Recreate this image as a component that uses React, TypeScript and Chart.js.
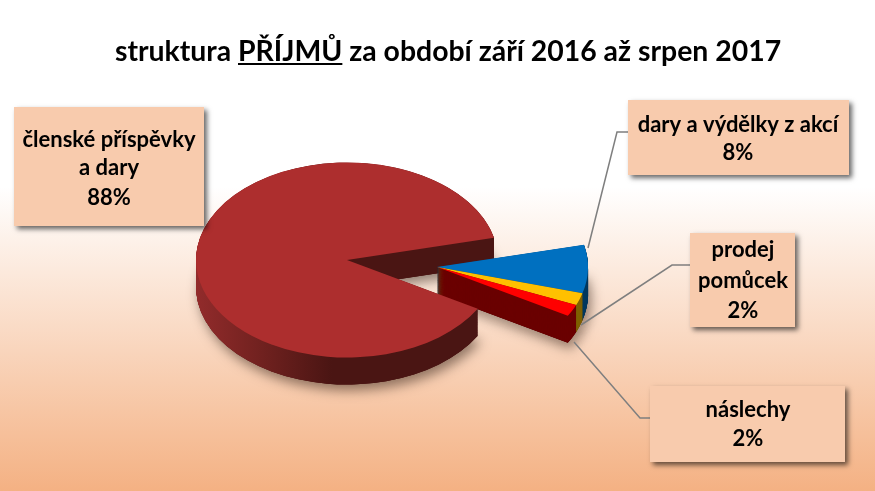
import { useEffect, useRef } from 'react';
import { Chart, registerables } from 'chart.js';

Chart.register(...registerables);

const categories = ['členské příspěvky a dary', 'dary a výdělky z akcí', 'prodej pomůcek', 'náslechy'];
const values = [88, 8, 2, 2];
const sliceColors = ['#AD2E2E', '#0070C0', '#FFC000', '#FF0000'];
const sideColors = ['#4A1513', '#00395F', '#7F6000', '#6B0000'];

// label text is broken the same way as in the slide
const labelLines = [['členské příspěvky', 'a dary'], ['dary a výdělky z akcí'], ['prodej', 'pomůcek'], ['náslechy']];

const titleBefore = 'struktura ';
const titleWord = 'PŘÍJMŮ';
const titleAfter = ' za období září 2016 až srpen 2017';

const FONT = 'Lato, sans-serif';
const SQUASH = 0.646;
const DEPTH = 27;

// pie slices pulled apart: main one to the left, the three small ones share a centre
const shiftX = [-101, -11, -11, -11];
const shiftY = [0, 11, 11, 11];

const boxes = [
    { x: 14, y: 107, w: 190, h: 119, cx: 109, lineY: [140, 168, 198] },
    { x: 628, y: 100, w: 221, h: 75, cx: 738, lineY: [125, 153] },
    { x: 690, y: 233, w: 105, h: 94, cx: 743, lineY: [250, 281, 311] },
    { x: 650, y: 386, w: 195, h: 76, cx: 748, lineY: [410, 439] },
];

const leaders = [
    [[628, 132], [617, 132], [588, 248]],
    [[690, 265], [672, 265], [581, 325]],
    [[650, 418], [640, 418], [574, 342]],
];

const pie3d = {
    id: 'pie3d',
    afterDatasetsUpdate(chart: any) {
        chart.getDatasetMeta(0).data.forEach((arc: any, i: number) => {
            arc.x += shiftX[i];
            arc.y += shiftY[i];
        });
    },
    beforeDatasetsDraw(chart: any) {
        const { ctx, chartArea } = chart;
        const cy = (chartArea.top + chartArea.bottom) / 2;
        const arcs = chart.getDatasetMeta(0).data;

        ctx.save();
        ctx.translate(0, cy);
        ctx.scale(1, SQUASH);
        ctx.translate(0, -cy);

        const sector = (arc: any, d: number) => {
            ctx.beginPath();
            ctx.moveTo(arc.x, arc.y + d);
            ctx.arc(arc.x, arc.y + d, arc.outerRadius, arc.startAngle, arc.endAngle);
            ctx.closePath();
        };

        // soft shadow under each part of the pie
        [[0], [1, 2, 3]].forEach((group) => {
            ctx.save();
            ctx.shadowColor = 'rgba(60,40,30,0.55)';
            ctx.shadowBlur = 12;
            ctx.shadowOffsetX = 3;
            ctx.shadowOffsetY = 6;
            ctx.fillStyle = '#4A1513';
            group.forEach((i) => {
                sector(arcs[i], DEPTH / SQUASH);
                ctx.fill();
            });
            ctx.restore();
        });

        // side walls: the slice swept downwards, painted back to front
        const mainArc = arcs[0];
        const left = mainArc.x - mainArc.outerRadius;
        const right = mainArc.x + mainArc.outerRadius;
        const wall = ctx.createLinearGradient(left, 0, right, 0);
        wall.addColorStop(0, '#922B2B');
        wall.addColorStop(0.22, '#70211F');
        wall.addColorStop(0.45, '#4A1513');
        wall.addColorStop(1, '#4A1513');

        arcs.forEach((arc: any, i: number) => {
            ctx.fillStyle = i === 0 ? wall : sideColors[i];
            for (let d = DEPTH / SQUASH; d > 0; d -= 0.5) {
                sector(arc, d);
                ctx.fill();
            }
        });
    },
    afterDatasetsDraw(chart: any) {
        chart.ctx.restore();
    },
    afterDraw(chart: any) {
        const { ctx } = chart;

        // underline of the one word in the title
        ctx.save();
        ctx.font = `bold ${chart.options.plugins.title.font.size}px ${FONT}`;
        const total = ctx.measureText(titleBefore + titleWord + titleAfter).width;
        const start = (chart.width + 21) / 2 - total / 2 + ctx.measureText(titleBefore).width;
        ctx.fillStyle = '#000';
        ctx.fillRect(start, 63, ctx.measureText(titleWord).width, 2);
        ctx.restore();

        ctx.save();
        ctx.strokeStyle = '#7F7F7F';
        ctx.lineWidth = 1.5;
        leaders.forEach((pts) => {
            ctx.beginPath();
            pts.forEach(([x, y], i) => (i ? ctx.lineTo(x, y) : ctx.moveTo(x, y)));
            ctx.stroke();
        });
        ctx.restore();

        boxes.forEach((box, i) => {
            ctx.save();
            ctx.shadowColor = 'rgba(0,0,0,0.6)';
            ctx.shadowBlur = 5;
            ctx.shadowOffsetX = 3;
            ctx.shadowOffsetY = 3;
            ctx.fillStyle = '#F8CBAD';
            ctx.fillRect(box.x, box.y, box.w, box.h);
            ctx.restore();

            ctx.save();
            ctx.font = `bold 22px ${FONT}`;
            ctx.fillStyle = '#000';
            ctx.textAlign = 'center';
            ctx.textBaseline = 'middle';
            [...labelLines[i], `${values[i]}%`].forEach((line, n) => {
                ctx.fillText(line, box.cx, box.lineY[n]);
            });
            ctx.restore();
        });
    },
};

const App = () => {
    const chartRef = useRef<HTMLCanvasElement | null>(null);

    useEffect(() => {
        document.body.style.margin = '0';
        if (!chartRef.current) return;

        const chart = new Chart(chartRef.current, {
            type: 'pie',
            data: {
                labels: categories,
                datasets: [
                    {
                        data: values,
                        backgroundColor: sliceColors,
                        borderWidth: 0,
                        clip: false,
                    },
                ],
            },
            options: {
                responsive: false,
                animation: false,
                rotation: 120,
                layout: { padding: { left: 21, bottom: 80 } },
                plugins: {
                    legend: { display: false },
                    tooltip: { enabled: false },
                    title: {
                        display: true,
                        text: titleBefore + titleWord + titleAfter,
                        color: '#000',
                        font: { family: FONT, size: 28.4, weight: 'bold', lineHeight: 1.2 },
                        padding: { top: 35, bottom: 39.9 },
                    },
                },
            },
            plugins: [pie3d],
        } as any);

        return () => chart.destroy();
    }, []);

    return (
        <div
            style={{
                width: 875,
                height: 491,
                background: 'linear-gradient(#FFFFFF 0%, #FFFFFF 38%, #F4B183 100%)',
            }}
        >
            <canvas ref={chartRef} width={875} height={491} style={{ display: 'block' }}></canvas>
        </div>
    );
};

export default App;
